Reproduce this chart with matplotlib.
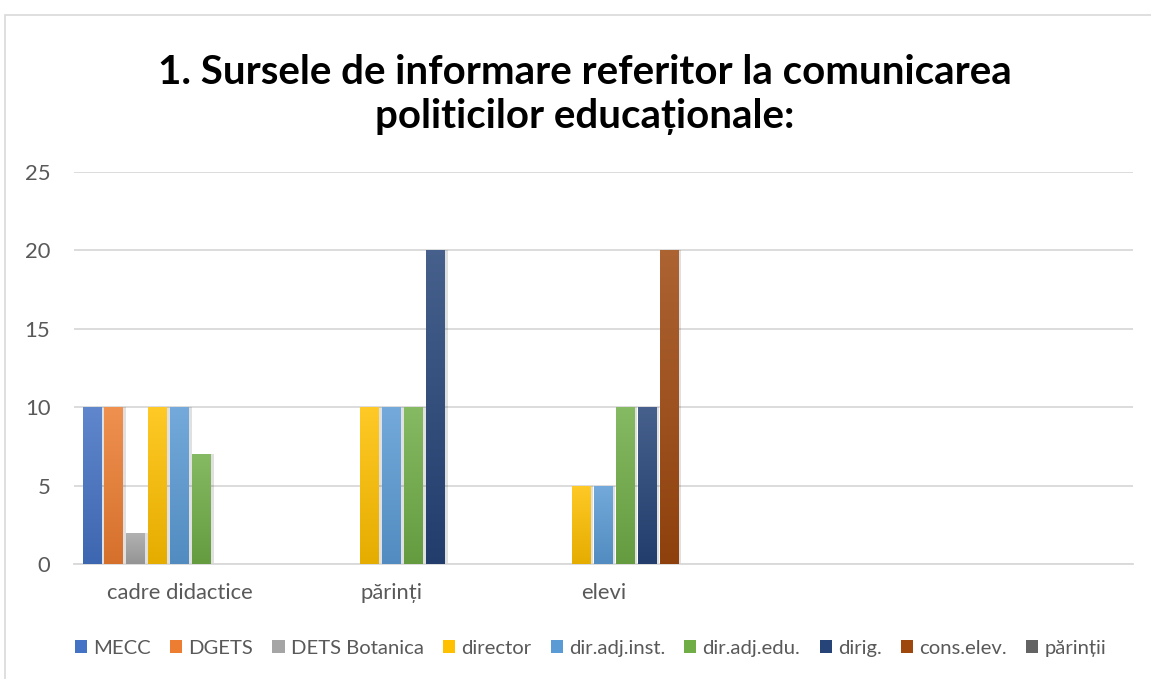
import numpy as np
import matplotlib.pyplot as plt
from matplotlib.colors import LinearSegmentedColormap, to_rgb
from matplotlib.patches import Rectangle

plt.rcParams['font.family'] = ['Lato', 'DejaVu Sans']

categories = ['cadre didactice', 'părinți', 'elevi', '', '']
series = ['MECC', 'DGETS', 'DETS Botanica', 'director', 'dir.adj.inst.',
          'dir.adj.edu.', 'dirig.', 'cons.elev.', 'părinții']
values = [
    [10, 0, 0, 0, 0],   # MECC
    [10, 0, 0, 0, 0],   # DGETS
    [2, 0, 0, 0, 0],    # DETS Botanica
    [10, 10, 5, 0, 0],  # director
    [10, 10, 5, 0, 0],  # dir.adj.inst.
    [7, 10, 10, 0, 0],  # dir.adj.edu.
    [0, 20, 10, 0, 0],  # dirig.
    [0, 0, 20, 0, 0],   # cons.elev.
    [0, 0, 0, 0, 0],    # părinții
]
colors = ['#4472C4', '#ED7D31', '#A5A5A5', '#FFC000', '#5B9BD5',
          '#70AD47', '#264478', '#9E480E', '#636363']

fig = plt.figure(figsize=(11.51, 6.79), dpi=100)
ax = fig.add_axes([0.0643, 0.1694, 0.9201, 0.5773])

# outer chart border
fig.patches.append(Rectangle((0.004, -0.01), 1.01, 0.988, transform=fig.transFigure,
                             fill=False, edgecolor='#D9D9D9', linewidth=1.2))

x = np.arange(len(categories))
pitch = 22 / 212
width = 19 / 212


def lighten(c, f):
    r, g, b = to_rgb(c)
    return (r + (1 - r) * f, g + (1 - g) * f, b + (1 - b) * f)


def darken(c, f):
    r, g, b = to_rgb(c)
    return (r * (1 - f), g * (1 - f), b * (1 - f))


grad = np.linspace(0, 1, 256).reshape(-1, 1)
for i, (name, vals, col) in enumerate(zip(series, values, colors)):
    pos = x + (i - 4) * pitch
    bars = ax.bar(pos, vals, width, color=col, label=name, zorder=3, linewidth=0)
    cmap = LinearSegmentedColormap.from_list(name, [darken(col, 0.1), lighten(col, 0.15)])
    for b, v in zip(bars, vals):
        if v <= 0:
            continue
        # soft shadow
        ax.bar(b.get_x() + b.get_width() / 2 + 0.006, v, width + 0.01,
               color='#000000', alpha=0.12, zorder=2, linewidth=0)
        im = ax.imshow(grad, cmap=cmap, aspect='auto', origin='lower', zorder=3.5,
                       extent=(b.get_x(), b.get_x() + b.get_width(), 0, v))
        im.set_clip_path(b)

ax.set_xlim(-0.5, len(categories) - 0.5)
ax.set_ylim(0, 25)
ax.set_yticks(range(0, 26, 5))
ax.set_xticks(x)
ax.set_xticklabels(categories)
ax.tick_params(length=0, labelsize=15.8, colors='#595959')
ax.tick_params(axis='x', pad=14)
ax.tick_params(axis='y', pad=17)
ax.grid(axis='y', color='#D9D9D9', linewidth=1.3, zorder=0)
ax.set_axisbelow(True)
for s in ['top', 'right', 'left']:
    ax.spines[s].set_visible(False)
ax.spines['bottom'].set_color('#D9D9D9')
ax.spines['bottom'].set_linewidth(1.3)

fig.text(0.508, 0.861, '1. Sursele de informare referitor la comunicarea\npoliticilor educaționale:',
         ha='center', va='center', fontsize=29, fontweight='bold', color='black',
         linespacing=1.22)

handles, labels = ax.get_legend_handles_labels()
fig.legend(handles, labels, loc='center', bbox_to_anchor=(0.513, 0.045), ncol=9,
           frameon=False, fontsize=14.6, labelcolor='#595959', handlelength=0.6,
           handleheight=0.6, handletextpad=0.3, columnspacing=0.95)

fig.savefig('out.png', dpi=100)
